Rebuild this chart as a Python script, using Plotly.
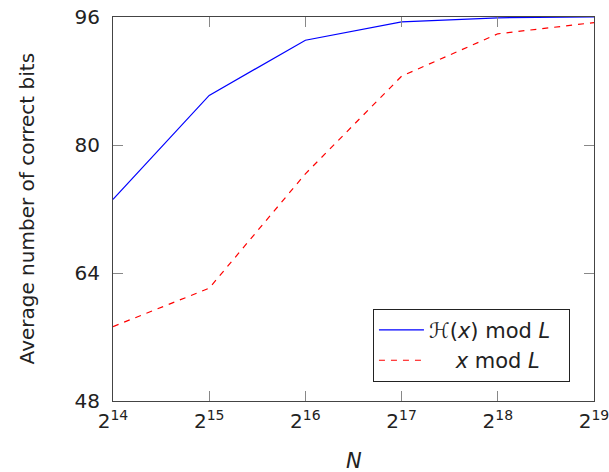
import math
import plotly.graph_objects as go

N = [2**14, 2**15, 2**16, 2**17, 2**18, 2**19]
hash_bits = [73.2, 86.2, 93.1, 95.4, 95.9, 96.0]
x_bits = [57.3, 62.1, 76.4, 88.6, 93.9, 95.3]
xtick_vals = [2**k for k in range(14, 20)]
xtick_text = [f"2<sup>{k}</sup>" for k in range(14, 20)]
ytick_vals = [48, 64, 80, 96]

FONT = "DejaVu Sans"

fig = go.Figure()
fig.add_trace(go.Scatter(x=N, y=hash_bits, mode="lines",
                         line=dict(color="#0000ff", width=1.2),
                         name="ℋ(<i>x</i>) mod <i>L</i>  "))
fig.add_trace(go.Scatter(x=N, y=x_bits, mode="lines",
                         line=dict(color="#ff0000", width=1.2, dash="6px,6px"),
                         name="    <i>x</i> mod <i>L</i>"))

axis_common = dict(showgrid=False, zeroline=False, showline=True, mirror="allticks",
                   linecolor="#444", linewidth=1.2, ticks="inside", ticklen=10,
                   tickcolor="#888", tickwidth=1, automargin=False,
                   ticklabeloverflow="allow",
                   tickfont=dict(family=FONT, size=20, color="#222"))

eps = 1e-6
fig.update_xaxes(type="log", range=[math.log10(2**14) - eps, math.log10(2**19) + eps],
                 tickvals=xtick_vals, ticktext=xtick_text, ticklabelstandoff=2,
                 **axis_common)
fig.update_yaxes(range=[48, 96], tickvals=ytick_vals, ticklabelstandoff=8,
                 **axis_common)

fig.add_annotation(text="Average number of correct bits", textangle=-90,
                   xref="paper", yref="paper", x=-0.178, y=0.5,
                   xanchor="center", yanchor="middle", showarrow=False,
                   font=dict(family=FONT, size=20, color="#222"))
fig.add_annotation(text="<i>N</i>", xref="paper", yref="paper", x=0.5, y=-0.155,
                   xanchor="center", yanchor="middle", showarrow=False,
                   font=dict(family=FONT, size=21, color="#222"))

fig.update_layout(width=609, height=472,
                  margin=dict(l=113, r=15, t=17, b=71),
                  paper_bgcolor="white", plot_bgcolor="white",
                  font=dict(family=FONT, color="#222"),
                  legend=dict(x=0.95, y=0.05, xanchor="right", yanchor="bottom",
                              bordercolor="#222", borderwidth=1, bgcolor="white",
                              font=dict(family=FONT, size=21, color="#222"),
                              itemwidth=45, tracegroupgap=4))

fig.write_html("out.html", config={"displayModeBar": False},
               post_script="document.body.style.margin='0px';")
